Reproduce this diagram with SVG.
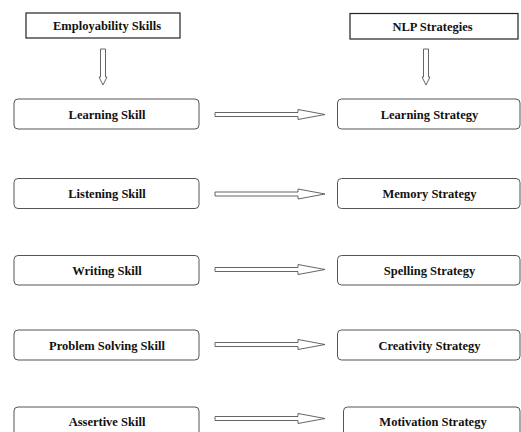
<svg xmlns="http://www.w3.org/2000/svg" width="521" height="432" viewBox="0 0 521 432">
<style>
.hdr{fill:#fff;stroke:#222;stroke-width:1.2}
.box{fill:#fff;stroke:#555;stroke-width:1}
.arr{fill:#fff;stroke:#555;stroke-width:0.9}
text{font-family:"Liberation Serif","Times New Roman",serif;font-weight:bold;font-size:12.5px;fill:#111;text-anchor:middle}
</style>
<defs>
<path id="ha" d="M215,-2 H298 V-5 L325,0 L298,5 V2 H215 Z"/>
<path id="va" d="M-2.5,49 H2.5 V77 H4 L0,85 L-4,77 H-2.5 Z"/>
</defs>
<rect width="521" height="432" fill="#fff"/>
<g id="connectors">
<use href="#va" x="103" class="arr"/>
<use href="#va" x="426" class="arr"/>
<use href="#ha" y="114.5" class="arr"/>
<use href="#ha" y="194" class="arr"/>
<use href="#ha" y="269.5" class="arr"/>
<use href="#ha" y="344.5" class="arr"/>
<use href="#ha" y="418.5" class="arr"/>
</g>
<g id="employability"><rect class="hdr" x="26" y="13" width="154" height="25"/><text x="107" y="30">Employability Skills</text></g>
<g id="nlp"><rect class="hdr" x="350" y="13.5" width="168" height="25.5"/><text x="432.5" y="30.5">NLP Strategies</text></g>
<g id="learning-skill"><rect class="box" x="14" y="99" width="185" height="30" rx="4"/><text x="107" y="118.5">Learning Skill</text></g>
<g id="listening-skill"><rect class="box" x="14" y="178.5" width="185" height="30" rx="4"/><text x="107" y="198">Listening Skill</text></g>
<g id="writing-skill"><rect class="box" x="14" y="255.5" width="185" height="29.5" rx="4"/><text x="107" y="275">Writing Skill</text></g>
<g id="problem-solving-skill"><rect class="box" x="14" y="330" width="185" height="30" rx="4"/><text x="107" y="349.5">Problem Solving Skill</text></g>
<g id="assertive-skill"><rect class="box" x="14" y="407" width="185" height="30" rx="4"/><text x="107" y="425.5">Assertive Skill</text></g>
<g id="learning-strategy"><rect class="box" x="337.5" y="99" width="182.5" height="30" rx="4"/><text x="429.5" y="118.5">Learning Strategy</text></g>
<g id="memory-strategy"><rect class="box" x="337.5" y="178.5" width="182.5" height="30" rx="4"/><text x="429.5" y="198">Memory Strategy</text></g>
<g id="spelling-strategy"><rect class="box" x="337.5" y="255.5" width="182.5" height="29.5" rx="4"/><text x="429.5" y="275">Spelling Strategy</text></g>
<g id="creativity-strategy"><rect class="box" x="337.5" y="330" width="182.5" height="30" rx="4"/><text x="429.5" y="349.5">Creativity Strategy</text></g>
<g id="motivation-strategy"><rect class="box" x="343.5" y="407" width="176.5" height="30" rx="4"/><text x="433" y="425.5">Motivation Strategy</text></g>
</svg>
